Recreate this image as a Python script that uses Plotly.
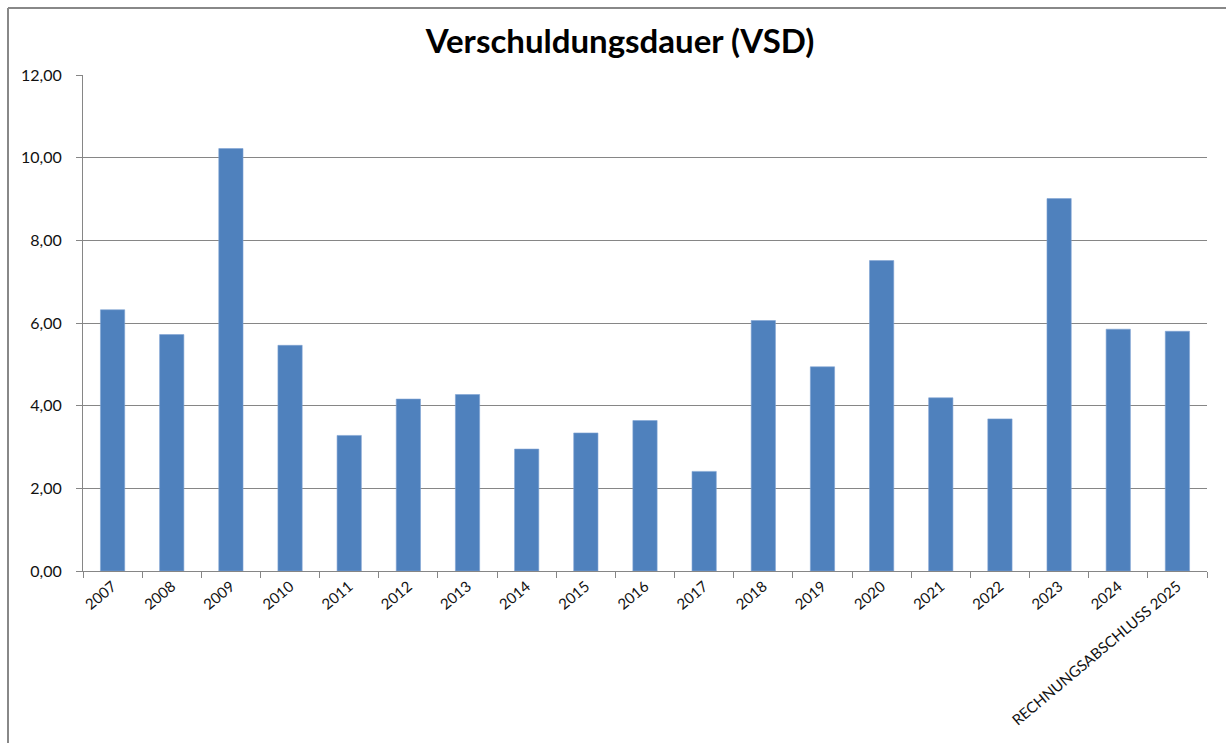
import plotly.graph_objects as go

categories = ["2007", "2008", "2009", "2010", "2011", "2012", "2013", "2014", "2015",
              "2016", "2017", "2018", "2019", "2020", "2021", "2022", "2023", "2024",
              "RECHNUNGSABSCHLUSS 2025"]
values = [6.32, 5.72, 10.22, 5.46, 3.28, 4.16, 4.27, 2.95, 3.34,
          3.64, 2.41, 6.06, 4.94, 7.51, 4.19, 3.68, 9.01, 5.85, 5.80]
y_ticks = [0, 2, 4, 6, 8, 10, 12]

W, H = 1226, 743
L, R, T, B = 83, 19, 75, 172
pw, ph = W - L - R, H - T - B

fig = go.Figure(go.Bar(
    x=categories, y=values,
    marker=dict(color="#4F81BD", line=dict(color="#7FA3D3", width=0.6)),
    width=0.41,
    hoverinfo="x+y",
))

bx = (8 - L) / pw
by = 1 + (T - 8) / ph

fig.update_layout(
    width=W, height=H,
    margin=dict(l=L, r=R, t=T, b=B, autoexpand=False),
    paper_bgcolor="white", plot_bgcolor="white",
    separators=",.",
    showlegend=False,
    font=dict(family="Lato, Carlito, Calibri, sans-serif", color="#222222"),
    title=dict(text="<b>Verschuldungsdauer (VSD)</b>", x=620 / W, xanchor="center",
               xref="container", y=1 - 41 / H, yanchor="middle", yref="container",
               font=dict(size=33, color="#000000")),
    xaxis=dict(
        type="category", tickangle=-40, tickson="boundaries",
        ticks="outside", ticklen=6, tickcolor="#868686",
        showline=True, linecolor="#868686", linewidth=1,
        showgrid=False, tickfont=dict(size=15, color="#111111"),
    ),
    yaxis=dict(
        range=[0, 12], tickvals=y_ticks, tickformat=".2f",
        ticks="outside", ticklen=6, tickcolor="#868686",
        showline=True, linecolor="#868686", linewidth=1,
        showgrid=True, gridcolor="#868686", gridwidth=1,
        zeroline=False, tickfont=dict(size=16, color="#111111"),
        ticklabelstandoff=11,
    ),
    shapes=[
        dict(type="line", xref="paper", yref="paper", x0=bx, x1=(W + 5 - L) / pw,
             y0=by, y1=by, line=dict(color="#888888", width=2)),
        dict(type="line", xref="paper", yref="paper", x0=bx, x1=bx,
             y0=by, y1=-(B + 5) / ph, line=dict(color="#888888", width=2)),
    ],
)

fig.write_html("out.html", config={"displayModeBar": False},
               post_script="document.body.style.margin='0';")
